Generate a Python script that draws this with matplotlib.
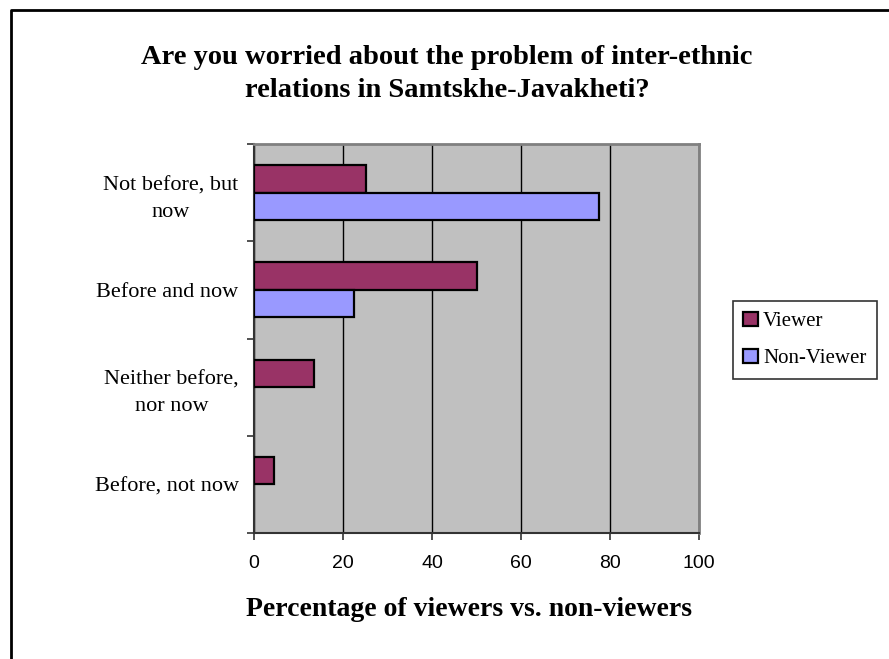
import numpy as np
import matplotlib.pyplot as plt
from matplotlib.lines import Line2D

# data
categories = ["Not before, but\nnow", "Before and now", "Neither before,\nnor now", "Before, not now"]
viewer = [25.1, 50.1, 13.5, 4.5]
non_viewer = [77.5, 22.4, 0, 0]
series_names = ["Viewer", "Non-Viewer"]
xticks = [0, 20, 40, 60, 80, 100]

W, H = 889, 659
fig = plt.figure(figsize=(W / 100, H / 100), dpi=100)
ax = fig.add_axes([254 / W, 1 - 533 / H, 445 / W, 389 / H])

y = np.arange(len(categories))
h = 0.284
ax.barh(y - h / 2, viewer, height=h, color='#993366', edgecolor='black',
        linewidth=1.6, label=series_names[0], zorder=3)
nv = np.array(non_viewer)
keep = nv > 0
ax.barh(y[keep] + h / 2, nv[keep], height=h, color='#9999FF', edgecolor='black',
        linewidth=1.6, label=series_names[1], zorder=3)

ax.set_xlim(0, 100)
ax.set_ylim(len(categories) - 0.5, -0.5)
ax.set_facecolor('#C0C0C0')
ax.set_xticks(xticks)
ax.set_xticklabels([str(t) for t in xticks], fontfamily='Liberation Sans', fontsize=14)
ax.xaxis.grid(True, color='black', linewidth=1)
ax.set_axisbelow(True)
ax.tick_params(axis='x', length=5, width=1.2, pad=11, color='#333333')

ax.set_yticks(y)
ax.set_yticklabels(categories, fontfamily='Liberation Serif', fontsize=16,
                   multialignment='center', linespacing=1.55)
ax.tick_params(axis='y', which='major', length=0, pad=11)
ax.set_yticks(np.arange(-0.5, len(categories), 1), minor=True)
ax.tick_params(axis='y', which='minor', length=5, width=1.2, color='#333333')

for s in ['left', 'bottom']:
    ax.spines[s].set_color('#333333')
    ax.spines[s].set_linewidth(1.5)
for s in ['top', 'right']:
    ax.spines[s].set_color('#808080')
    ax.spines[s].set_linewidth(2)

fig.text(447 / W, 1 - 74 / H,
         "Are you worried about the problem of inter-ethnic\nrelations in Samtskhe-Javakheti?",
         ha='center', va='center', fontfamily='Liberation Serif', fontweight='bold',
         fontsize=20.5, linespacing=1.45)
fig.text(469 / W, 1 - 610 / H, "Percentage of viewers vs. non-viewers",
         ha='center', va='center', fontfamily='Liberation Serif', fontweight='bold',
         fontsize=20)

leg = fig.legend(loc='center left', bbox_to_anchor=(733 / W, 1 - 340 / H),
                 prop={'family': 'Liberation Serif', 'size': 15},
                 frameon=True, fancybox=False, shadow=False,
                 handlelength=0.7, handleheight=0.7, handletextpad=0.25,
                 labelspacing=0.85, borderpad=0.5, borderaxespad=0)
leg.get_frame().set_edgecolor('black')
leg.get_frame().set_linewidth(1.2)

# outer chart border (left and top edges only are visible)
fig.add_artist(Line2D([10.5 / W, 10.5 / W, 1.1], [-0.1, 1 - 9.5 / H, 1 - 9.5 / H],
                      transform=fig.transFigure, color='black', linewidth=2))

fig.savefig('out.png', dpi=100)
